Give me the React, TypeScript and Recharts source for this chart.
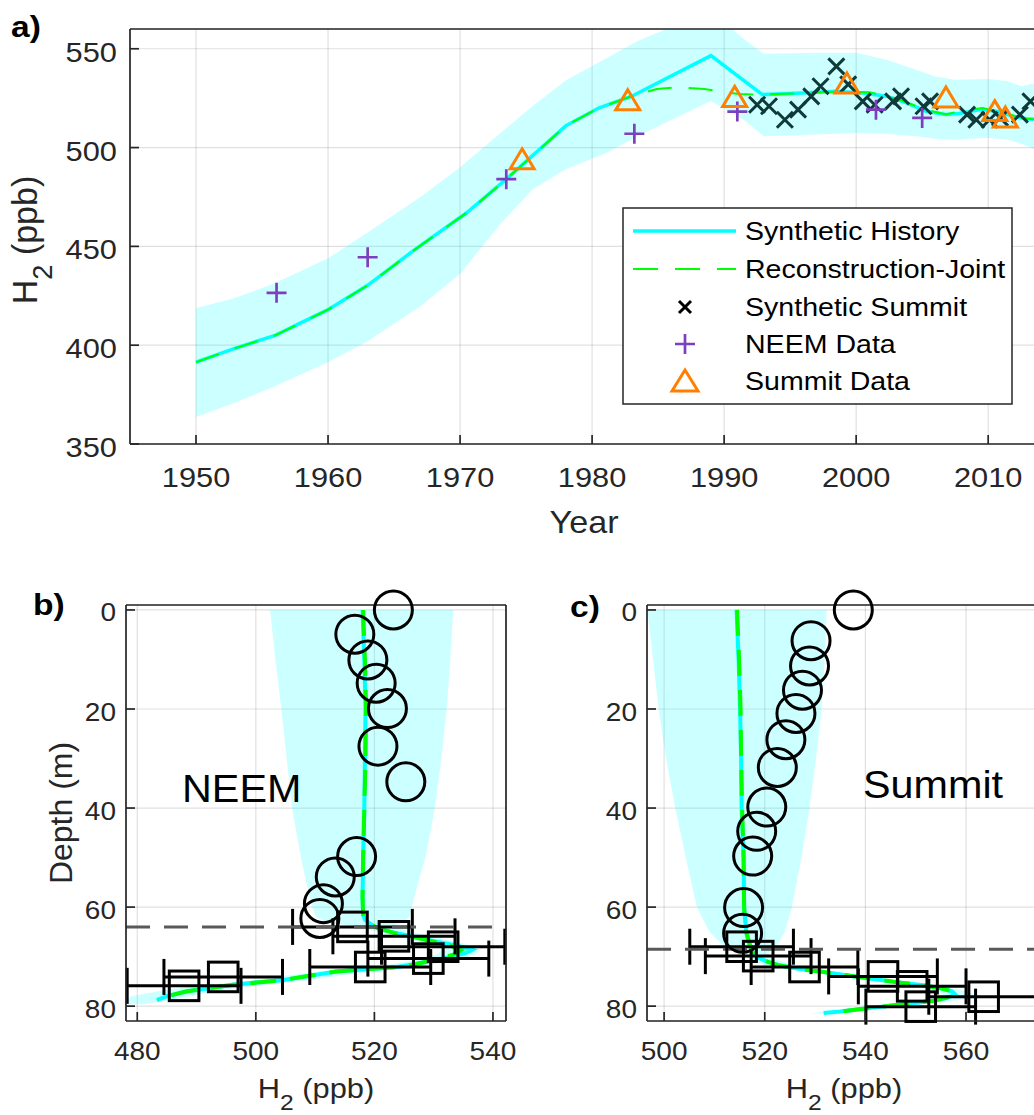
import React from 'react';
import {
  ComposedChart, Area, Line, Scatter, XAxis, YAxis, CartesianGrid,
  ReferenceLine, ErrorBar, Legend,
} from 'recharts';

const FONT = "'Liberation Sans', Arial, Helvetica, sans-serif";
const TXT = '#262626';
const SX = 1.12;
const CYAN = '#00FFFF';
const GREEN = '#00FF00';
const PURPLE = '#7E3FBF';
const ORANGE = '#FF8000';
const DARK = '#0E3A3A';

// ---------------- Panel a: H2 history ----------------
const yearTicks = [1950, 1960, 1970, 1980, 1990, 2000, 2010];
const h2TicksA = [350, 400, 450, 500, 550];

const bandYears = [1950, 1953, 1956, 1960, 1963, 1967, 1970, 1973, 1975.5, 1978, 1981, 1983.5, 1986, 1988.5, 1989, 1990.5, 1991.5, 1993, 1997, 2000, 2002.3, 2004.5, 2006, 2007.5, 2010, 2011.5, 2012.5, 2013.5, 2014];
const bandLow = [363.6, 371, 379.3, 391.4, 402, 419.7, 436, 461, 478.8, 489, 497, 506, 514, 522, 523.4, 518, 514, 505.7, 506.6, 507.5, 507, 505.7, 504.5, 504, 505, 504, 502, 499, 498];
const bandHigh = [418.7, 424, 431.5, 444, 457, 475, 490, 507, 521, 534, 545, 554, 561, 567, 566.5, 560.5, 555, 547.5, 548, 548, 544.5, 539.5, 536, 534.3, 534.7, 533.5, 531, 532.5, 533];

const historyYears = [1950, 1953, 1956, 1960, 1963, 1966.6, 1970.5, 1973.5, 1978, 1980.5, 1983, 1989, 1992.9, 1995.9, 1998.5, 2000.5, 2002.3, 2003.8, 2005.3, 2006.8, 2007.8, 2009.4, 2010.6, 2011.9, 2012.9, 2014];
const historyH2 = [391.4, 398.5, 405, 418, 430.3, 448.5, 467, 484, 511, 520, 526, 546.5, 526.8, 527.6, 528.5, 527.6, 526, 522.6, 518.4, 516.7, 517.2, 519.2, 518.4, 515.8, 514.6, 514];

const reconYears = [1950, 1953, 1956, 1960, 1963, 1966.6, 1970.5, 1973.5, 1978, 1980.5, 1983, 1984.9, 1986.4, 1988.5, 1991.1, 1992.9, 1996, 1998.5, 2001, 2003, 2005.1, 2006.8, 2007.8, 2009.6, 2011.1, 2012.9, 2014];
const reconH2 = [391.4, 398.5, 405, 418, 430.3, 448.5, 467, 484, 511, 520, 526, 529.6, 530.5, 529.6, 527.1, 526.8, 527.6, 528.3, 528, 525, 519.5, 516.7, 518.4, 520, 517.5, 514.6, 514];

const synthYears = [1992.5, 1993.4, 1994.6, 1995.6, 1996.6, 1997.3, 1998.5, 1999.4, 2000.5, 2001.4, 2002.8, 2003.4, 2005.1, 2005.6, 2008.4, 2009.1, 2010.1, 2010.9, 2012.4, 2013.2];
const synthH2 = [521.7, 520.9, 514.1, 519.2, 525.9, 531, 541.1, 532, 523.4, 521.7, 523.4, 525.9, 520.9, 523.4, 516.7, 514.1, 514.1, 515, 516.7, 523.4];

const neemYears = [1956.1, 1963.0, 1973.5, 1983.2, 1991.0, 2001.5, 2005.0];
const neemH2 = [426.5, 444.5, 484, 507, 518.2, 519.2, 515];

const summitYears = [1974.7, 1982.7, 1990.8, 1999.3, 2006.8, 2010.5, 2011.3];
const summitH2 = [494.3, 524.2, 525.9, 532.7, 525.6, 518.7, 515.5];

// ---------------- Panels b, c: depth profiles ----------------
const depthTicks = [0, 20, 40, 60, 80];
const neemH2Ticks = [480, 500, 520, 540];
const summitH2Ticks = [500, 520, 540, 560];

const neemBandDepth = [0, 10, 20, 30, 40, 50, 55, 60, 62, 63, 63.5, 64, 65, 66, 67.5, 68.6, 69.5, 70.5, 71.5, 72.5, 73.5, 74.7, 76, 77, 78, 78.8, 79.6];
const neemBandLow = [502.4, 503.3, 504.3, 505.2, 506.1, 507.6, 508.5, 509.5, 510.2, 511.8, 514.5, 517.5, 520.5, 524, 529, 531.5, 530.5, 528, 523, 516, 507, 500, 489.5, 483.5, 479, 478.2, 478.2];
const neemBandHigh = [533.3, 532.8, 532.2, 531.3, 530.2, 528.6, 527.4, 526.3, 525.9, 525, 523.5, 523.5, 526, 530, 535.5, 538, 537, 535, 530, 524, 516, 509, 499, 493, 489, 485.5, 481];

const neemHistDepth = [0, 10, 20, 30, 40, 50, 58, 61.5, 62.5, 63.3, 64.3, 65.2, 66.1, 67.0, 67.8, 68.6, 69.3, 70.0, 70.7, 71.5, 72.1, 73.0, 74.7, 75.7, 77.0, 78.0, 78.8];
const neemHistH2 = [518.0, 518.3, 518.5, 518.4, 518.3, 518.1, 518.0, 518.1, 518.4, 519.2, 520.6, 523.5, 527.1, 530.5, 534.0, 536.5, 535.3, 533.0, 530.0, 527.0, 523.8, 513.5, 504.7, 496.2, 488.4, 485.0, 483.3];

const neemReconDepth = [0, 10, 20, 30, 40, 50, 58, 61.5, 62.5, 63.3, 64.3, 65.2, 66.1, 67.0, 67.8, 68.7, 69.6, 70.5, 71.5, 72.1, 73.0, 74.7, 75.7, 77.0, 78.0, 78.8];
const neemReconH2 = [518.1, 518.4, 518.6, 518.5, 518.3, 518.1, 518.0, 518.1, 518.4, 519.2, 520.6, 523.3, 526.8, 530.0, 532.8, 534.6, 533.3, 530.8, 527.0, 523.8, 513.5, 504.7, 496.2, 488.4, 485.0, 483.5];

const neemFirnDepth = [0, 4.9, 10.1, 14.8, 19.9, 27.5, 34.7, 49.8, 53.9, 59.3, 62.3];
const neemFirnH2 = [523.2, 516.7, 518.9, 520.3, 522.2, 520.6, 525.3, 517.0, 513.4, 511.4, 510.8];

const neemIceDepth = [64.0, 65.9, 68.0, 70.4, 72.1, 74.1, 75.9];
const neemIceH2 = [516.3, 523.3, 531.6, 529.1, 519.3, 494.5, 487.9];
const neemIceErr = [10.1, 10.3, 10.4, 10.2, 10.2, 10.0, 9.6];

const summitBandDepth = [0, 10, 20, 30, 40, 50, 60, 65, 67.5, 69, 70.1, 71, 71.8, 72.5, 73.1, 74.5, 75.8, 77.0, 77.8, 78.5, 79.4, 80.3, 81.1, 81.5];
const summitBandLow = [496.7, 497.8, 498.9, 500.4, 502.2, 504.3, 506.5, 509.0, 511.5, 515.0, 516.5, 518.0, 520.5, 524.5, 529.0, 539.0, 549.0, 554.5, 555.5, 553.0, 546.5, 538.5, 532.0, 529.0];
const summitBandHigh = [532.3, 531.9, 531.3, 530.2, 528.9, 527.3, 525.4, 524.0, 522.5, 521.0, 520.5, 523.5, 526.0, 530.0, 534.5, 544.5, 554.5, 560.0, 562.0, 561.0, 553.0, 544.5, 538.0, 534.0];

const summitHistDepth = [0, 10, 20, 30, 40, 50, 60, 65, 67.5, 69, 70.1, 71, 71.8, 72.5, 73.1, 73.8, 74.5, 75.2, 75.8, 76.4, 77.0, 77.6, 78.2, 78.9, 79.4, 79.9, 80.3, 80.7, 81.1, 81.4];
const summitHistH2 = [514.4, 514.8, 515.1, 515.3, 515.4, 515.8, 515.9, 516.3, 517.0, 517.6, 518.4, 520.5, 523.0, 527.0, 531.7, 536.5, 541.6, 546.5, 551.5, 555.0, 557.2, 557.8, 556.5, 553.5, 549.5, 544.9, 541.5, 538.3, 535.0, 531.7];

const summitReconDepth = [0, 10, 20, 30, 40, 50, 60, 65, 67.5, 69, 70.1, 71, 71.8, 72.5, 73.1, 73.8, 74.5, 75.2, 75.8, 76.4, 77.0, 77.6, 78.2, 78.9, 79.4, 79.9, 80.3, 80.7, 81.1];
const summitReconH2 = [514.5, 514.9, 515.2, 515.3, 515.5, 515.8, 515.9, 516.3, 517.0, 517.6, 518.4, 520.5, 523.0, 527.0, 531.7, 536.5, 541.6, 546.5, 551.5, 555.0, 557.2, 557.8, 556.5, 553.5, 549.5, 544.9, 541.5, 538.3, 535.0];

const summitFirnDepth = [0, 6.2, 11.3, 16.2, 20.9, 26.2, 31.8, 39.8, 44.7, 49.7, 60.1, 65.3];
const summitFirnH2 = [537.6, 529.2, 528.9, 527.5, 526.2, 524.2, 522.5, 520.4, 518.4, 517.6, 515.8, 515.6];

const summitIceDepth = [68.0, 69.9, 72.1, 74.0, 76.0, 80.1, 78.1];
const summitIceH2 = [515.4, 518.7, 527.9, 543.5, 549.3, 551.0, 563.5];
const summitIceErr = [10.3, 10.5, 10.6, 10.8, 10.7, 10.9, 10.9];

// ---------------- tables ----------------
const bandA = bandYears.map((year, i) => ({ year, lo: bandLow[i], hi: bandHigh[i] }));
const historyA = historyYears.map((year, i) => ({ year, v: historyH2[i] }));
const reconA = reconYears.map((year, i) => ({ year, v: reconH2[i] }));
const synthA = synthYears.map((year, i) => ({ year, v: synthH2[i] }));
const neemA = neemYears.map((year, i) => ({ year, v: neemH2[i] }));
const summitA = summitYears.map((year, i) => ({ year, v: summitH2[i] }));

const zipDepth = (d: number[], h: number[]) => d.map((depth, i) => ({ depth, h2: h[i] }));
const zipBand = (d: number[], lo: number[], hi: number[]) => d.map((depth, i) => ({ depth, lo: lo[i], hi: hi[i] }));
const zipIce = (d: number[], h: number[], e: number[]) => d.map((depth, i) => ({ depth, h2: h[i], err: e[i] }));

const neemBand = zipBand(neemBandDepth, neemBandLow, neemBandHigh);
const neemHist = zipDepth(neemHistDepth, neemHistH2);
const neemRecon = zipDepth(neemReconDepth, neemReconH2);
const neemFirn = zipDepth(neemFirnDepth, neemFirnH2);
const neemIce = zipIce(neemIceDepth, neemIceH2, neemIceErr);

const summitBand = zipBand(summitBandDepth, summitBandLow, summitBandHigh);
const summitHist = zipDepth(summitHistDepth, summitHistH2);
const summitRecon = zipDepth(summitReconDepth, summitReconH2);
const summitFirn = zipDepth(summitFirnDepth, summitFirnH2);
const summitIce = zipIce(summitIceDepth, summitIceH2, summitIceErr);

// ---------------- helpers ----------------
const AXIS = { stroke: TXT, strokeWidth: 1.7 };

const xTick = (fs: number) => (p: any) => (
  <g transform={`translate(${p.x},${p.y}) scale(${SX},1)`}>
    <text x={0} y={0} textAnchor="middle" fontSize={fs} fontFamily={FONT} fill={TXT}>{p.payload.value}</text>
  </g>
);
const yTick = (fs: number, dy: number) => (p: any) => (
  <g transform={`translate(${p.x},${p.y + dy}) scale(${SX},1)`}>
    <text x={0} y={0} textAnchor="end" fontSize={fs} fontFamily={FONT} fill={TXT}>{p.payload.value}</text>
  </g>
);

const H2Title = ({ x, y, fs, sx, rotate }: { x: number; y: number; fs: number; sx: number; rotate?: boolean }) => (
  <g transform={`translate(${x},${y}) scale(${sx},1)${rotate ? ' rotate(-90)' : ''}`}>
    <text x={0} y={0} textAnchor="middle" fontSize={fs} fontFamily={FONT} fill={TXT}>
      H<tspan fontSize={fs * 0.8} dy={fs * 0.42}>2</tspan><tspan fontSize={fs} dy={-fs * 0.42}>{' (ppb)'}</tspan>
    </text>
  </g>
);
const PlainTitle = ({ x, y, fs, sx, rotate, text }: { x: number; y: number; fs: number; sx: number; rotate?: boolean; text: string }) => (
  <g transform={`translate(${x},${y}) scale(${sx},1)${rotate ? ' rotate(-90)' : ''}`}>
    <text x={0} y={0} textAnchor="middle" fontSize={fs} fontFamily={FONT} fill={TXT}>{text}</text>
  </g>
);

const PlusShape = (p: any) => (
  <path d={`M${p.cx - 10},${p.cy}H${p.cx + 10}M${p.cx},${p.cy - 10}V${p.cy + 10}`} stroke={PURPLE} strokeWidth={2.7} fill="none" />
);
const CrossShape = (p: any) => (
  <path d={`M${p.cx - 8},${p.cy - 8}L${p.cx + 8},${p.cy + 8}M${p.cx - 8},${p.cy + 8}L${p.cx + 8},${p.cy - 8}`} stroke={DARK} strokeWidth={3} fill="none" />
);
const TriShape = (p: any) => (
  <path d={`M${p.cx},${p.cy - 10}L${p.cx + 12},${p.cy + 10}L${p.cx - 12},${p.cy + 10}Z`} stroke={ORANGE} strokeWidth={3} fill="none" strokeLinejoin="miter" />
);
const CircleShape = (p: any) => (
  <circle cx={p.cx} cy={p.cy} r={19} stroke="#000" strokeWidth={3} fill="none" />
);
const SquareShape = (p: any) => (
  <rect x={p.cx - 14.8} y={p.cy - 14.8} width={29.6} height={29.6} stroke="#000" strokeWidth={3} fill="none" />
);

const LegendA = () => {
  const rows = [24, 62, 100, 137, 174];
  const tx = 123;
  const fs = 25.5;
  const label = (y: number, t: string) => (
    <g transform={`translate(${tx},${y + 9}) scale(${SX},1)`}>
      <text x={0} y={0} fontSize={fs} fontFamily={FONT} fill="#000">{t}</text>
    </g>
  );
  return (
    <svg width={392} height={199} style={{ display: 'block' }}>
      <rect x={1} y={1} width={389} height={196} fill="#fff" stroke={TXT} strokeWidth={1.5} />
      <line x1={11} x2={114} y1={rows[0]} y2={rows[0]} stroke={CYAN} strokeWidth={3.5} />
      {label(rows[0], 'Synthetic History')}
      <line x1={11} x2={114} y1={rows[1]} y2={rows[1]} stroke={GREEN} strokeWidth={2} strokeDasharray="25 17" />
      {label(rows[1], 'Reconstruction-Joint')}
      <path d={`M${63 - 6},${rows[2] - 6}L${63 + 6},${rows[2] + 6}M${63 - 6},${rows[2] + 6}L${63 + 6},${rows[2] - 6}`} stroke="#000" strokeWidth={3} />
      {label(rows[2], 'Synthetic Summit')}
      <path d={`M${63 - 10},${rows[3]}H${63 + 10}M63,${rows[3] - 10}V${rows[3] + 10}`} stroke={PURPLE} strokeWidth={2.7} />
      {label(rows[3], 'NEEM Data')}
      <path d={`M63,${rows[4] - 11}L${63 + 13},${rows[4] + 10}L${63 - 13},${rows[4] + 10}Z`} stroke={ORANGE} strokeWidth={3} fill="none" />
      {label(rows[4], 'Summit Data')}
    </svg>
  );
};

const PanelA = () => (
  <ComposedChart width={1070} height={560} data={bandA} margin={{ top: 28, right: 28, bottom: 115, left: 129 }}>
    <CartesianGrid stroke="#000" strokeOpacity={0.12} strokeWidth={1.2} />
    <XAxis dataKey="year" type="number" domain={[1945, 2014]} ticks={yearTicks} allowDataOverflow interval={0}
      height={1} tickSize={-9} tickMargin={51.7} tick={xTick(27.5)} axisLine={AXIS} tickLine={AXIS}
      label={() => <PlainTitle x={584} y={533} fs={30.5} sx={1.12} text="Year" />} />
    <XAxis xAxisId="top" orientation="top" type="number" domain={[1945, 2014]} ticks={yearTicks} allowDataOverflow interval={0}
      height={1} tickSize={-9} tick={false} axisLine={AXIS} tickLine={AXIS} />
    <YAxis type="number" domain={[350, 560]} ticks={h2TicksA} allowDataOverflow interval={0}
      width={1} tickSize={-9} tickMargin={22} tick={yTick(27.5, 13)} axisLine={AXIS} tickLine={AXIS}
      label={() => <H2Title x={37} y={240} fs={34} sx={1.03} rotate />} />
    <YAxis yAxisId="right" orientation="right" type="number" domain={[350, 560]} ticks={h2TicksA} allowDataOverflow interval={0}
      width={1} tickSize={-9} tick={false} axisLine={AXIS} tickLine={AXIS} />
    <Area dataKey={(d: any) => [d.lo, d.hi]} type="linear" fill={CYAN} fillOpacity={0.2} stroke="none" isAnimationActive={false} />
    <Line data={historyA} dataKey="v" type="linear" stroke={CYAN} strokeWidth={3.5} dot={false} isAnimationActive={false} />
    <Line data={reconA} dataKey="v" type="linear" stroke={GREEN} strokeWidth={2} strokeDasharray="24 17" dot={false} isAnimationActive={false} />
    <Scatter data={synthA} dataKey="v" shape={CrossShape} isAnimationActive={false} />
    <Scatter data={neemA} dataKey="v" shape={PlusShape} isAnimationActive={false} />
    <Scatter data={summitA} dataKey="v" shape={TriShape} isAnimationActive={false} />
    <Legend layout="horizontal" verticalAlign="middle" align="center" content={() => <LegendA />}
      wrapperStyle={{ left: 622, top: 207, width: 392, height: 199 }} />
  </ComposedChart>
);

type DepthProps = {
  width: number; margin: any; xDomain: [number, number]; xTicks: number[];
  band: any[]; hist: any[]; recon: any[]; firn: any[]; ice: any[]; dashDepth: number;
  h2TitleX: number; depthTitle?: boolean;
};

const DepthPanel = (p: DepthProps) => (
  <ComposedChart layout="vertical" width={p.width} height={555} data={p.band} margin={p.margin}>
    <CartesianGrid stroke="#000" strokeOpacity={0.12} strokeWidth={1.2} />
    <XAxis type="number" domain={p.xDomain} ticks={p.xTicks} interval={0}
      height={1} tickSize={-9} tickMargin={48} tick={xTick(25)} axisLine={AXIS} tickLine={AXIS}
      label={() => <H2Title x={p.h2TitleX} y={538} fs={28} sx={1.1} />} />
    <XAxis xAxisId="top" orientation="top" type="number" domain={p.xDomain} ticks={p.xTicks} allowDataOverflow interval={0}
      height={1} tickSize={-9} tick={false} axisLine={AXIS} tickLine={AXIS} />
    <YAxis type="number" dataKey="depth" domain={[-1, 83]} ticks={depthTicks} interval={0}
      width={1} tickSize={-9} tickMargin={19} tick={yTick(25, 11.5)} axisLine={AXIS} tickLine={AXIS}
      label={p.depthTitle ? () => <PlainTitle x={72} y={253} fs={32} sx={0.97} text="Depth (m)" rotate /> : undefined} />
    <YAxis yAxisId="right" orientation="right" type="number" domain={[-1, 83]} ticks={depthTicks} allowDataOverflow interval={0}
      width={1} tickSize={-9} tick={false} axisLine={AXIS} tickLine={AXIS} />
    <Area dataKey={(d: any) => [d.lo, d.hi]} type="linear" fill={CYAN} fillOpacity={0.2} stroke="none" isAnimationActive={false} />
    <Line data={p.hist} dataKey="h2" type="linear" stroke={CYAN} strokeWidth={4} dot={false} isAnimationActive={false} />
    <Line data={p.recon} dataKey="h2" type="linear" stroke={GREEN} strokeWidth={4} strokeDasharray="26 14" dot={false} isAnimationActive={false} />
    <Scatter data={p.firn} dataKey="h2" shape={CircleShape} isAnimationActive={false} />
    <Scatter data={p.ice} dataKey="h2" shape={SquareShape} isAnimationActive={false}>
      <ErrorBar dataKey="err" direction="x" width={18} strokeWidth={3} stroke="#000" isAnimationActive={false} />
    </Scatter>
    <ReferenceLine y={p.dashDepth} stroke="#595959" strokeWidth={3} strokeDasharray="24 14" />
  </ComposedChart>
);

export default function App() {
  return (
    <div style={{ position: 'fixed', left: 0, top: 0, width: 1034, height: 1115, overflow: 'hidden', background: '#fff' }}>
      <div style={{ position: 'absolute', left: 0, top: 0 }}>
        <PanelA />
      </div>
      <div style={{ position: 'absolute', left: 0, top: 560 }}>
        <DepthPanel width={540} margin={{ top: 44, right: 33, bottom: 93, left: 125 }} xDomain={[478.1, 542.2]} xTicks={neemH2Ticks}
          band={neemBand} hist={neemHist} recon={neemRecon} firn={neemFirn} ice={neemIce} dashDepth={64} h2TitleX={316} depthTitle />
      </div>
      <div style={{ position: 'absolute', left: 540, top: 560 }}>
        <DepthPanel width={520} margin={{ top: 44, right: 17, bottom: 93, left: 106 }} xDomain={[496.6, 575.1]} xTicks={summitH2Ticks}
          band={summitBand} hist={summitHist} recon={summitRecon} firn={summitFirn} ice={summitIce} dashDepth={68.5} h2TitleX={304} />
      </div>
      <svg width={1034} height={1115} style={{ position: 'absolute', left: 0, top: 0, pointerEvents: 'none' }}>
        <g transform={`translate(11,37) scale(${SX},1)`}><text fontSize={30} fontWeight="bold" fontFamily={FONT} fill="#000">a)</text></g>
        <g transform={`translate(33,615) scale(${SX},1)`}><text fontSize={30} fontWeight="bold" fontFamily={FONT} fill="#000">b)</text></g>
        <g transform={`translate(570,617) scale(${SX},1)`}><text fontSize={30} fontWeight="bold" fontFamily={FONT} fill="#000">c)</text></g>
        <g transform="translate(182,802) scale(1.06,1)"><text fontSize={39} fontFamily={FONT} fill="#000">NEEM</text></g>
        <g transform="translate(863,798) scale(1.06,1)"><text fontSize={39} fontFamily={FONT} fill="#000">Summit</text></g>
      </svg>
    </div>
  );
}
